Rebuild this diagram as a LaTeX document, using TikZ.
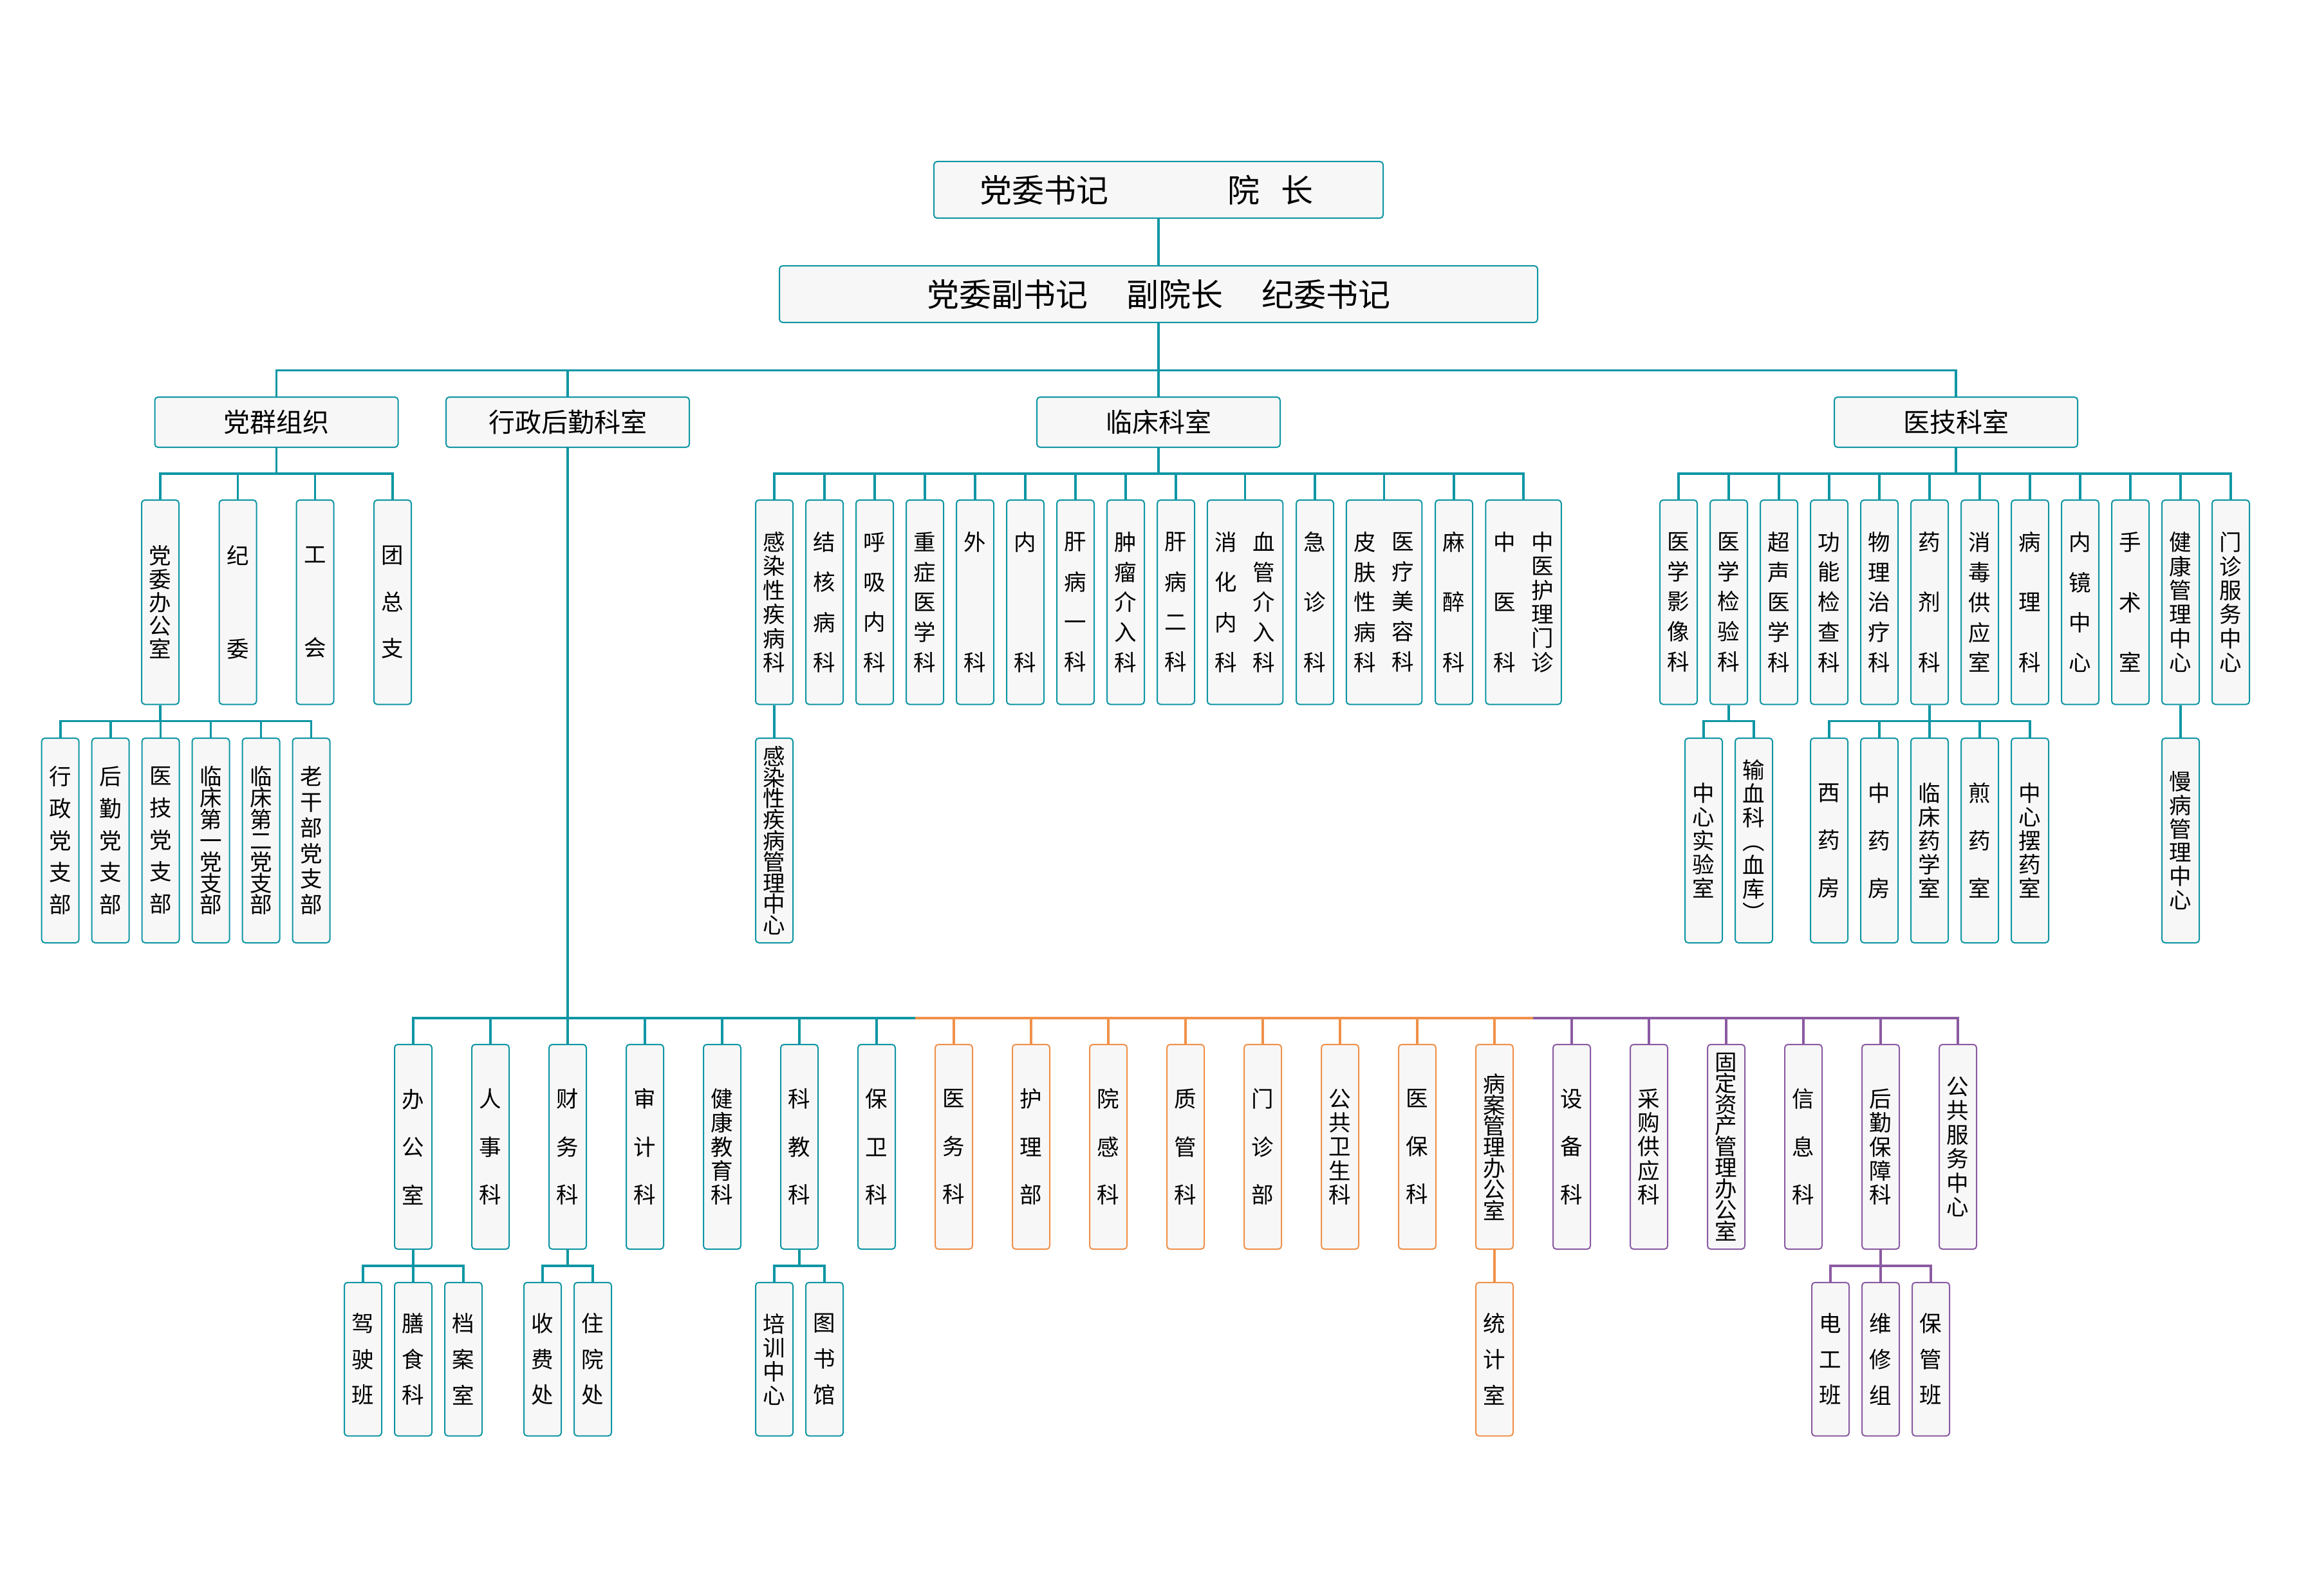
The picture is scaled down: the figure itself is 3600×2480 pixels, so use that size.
\documentclass[tikz,border=0pt]{standalone}
\usepackage{fontspec}
\setmainfont{Noto Sans CJK SC}
\definecolor{tealc}{RGB}{14,150,164}
\definecolor{orngc}{RGB}{240,145,74}
\definecolor{purpc}{RGB}{139,90,162}
\definecolor{boxfill}{RGB}{247,247,247}
\newcommand\VF[1]{\fontsize{34.5pt}{#1pt}\selectfont\lineskiplimit=-200pt\relax}
\tikzset{
  base/.style={fill=boxfill, line width=2pt, rounded corners=5pt, inner sep=0pt, align=center, minimum width=58pt, text=black},
  T/.style={base, draw=tealc},
  O/.style={base, draw=orngc},
  P/.style={base, draw=purpc},
  hA/.style={minimum height=317.5pt},
  hB/.style={minimum height=318pt},
  hC/.style={minimum height=238.5pt},
  wide/.style={minimum width=117.5pt},
  sp/.style={font=\VF{#1}},
  lT/.style={draw=tealc, line width=3.8pt},
  lO/.style={draw=orngc, line width=3.8pt},
  lP/.style={draw=purpc, line width=3.8pt},
  big/.style={font=\fontsize{50pt}{60pt}\selectfont, inner sep=0pt},
  mid/.style={font=\fontsize{41pt}{48pt}\selectfont},
}
\begin{document}
\begin{tikzpicture}[x=1pt,y=-1pt]
\fill[white] (0,0) rectangle (3600,2480);
\useasboundingbox (0,0) rectangle (3600,2480);

% ---- top ----
\node[T, minimum width=698pt, minimum height=88pt] (t1) at (1800,295) {};
\node[big] (t1a) at (1781.5,295) {党委书记\hspace{185pt}院\hspace{33pt}长};
\node[T, minimum width=1178pt, minimum height=88pt] (t2) at (1800,457) {};
\node[big] (t2a) at (1800,457) {党委副书记\hspace{60pt}副院长\hspace{60pt}纪委书记};

% ---- level 2 ----
\node[T, mid, minimum width=378pt, minimum height=78pt] (dq) at (429.5,656) {党群组织};
\node[T, mid, minimum width=378pt, minimum height=78pt] (xz) at (882,656) {行政后勤科室};
\node[T, mid, minimum width=378pt, minimum height=78pt] (lc) at (1800,656) {临床科室};
\node[T, mid, minimum width=378pt, minimum height=78pt] (yj) at (3039,656) {医技科室};

\coordinate (busTop) at (0,575.5);
\coordinate (bA) at (0,735.6);
\coordinate (bB) at (0,1120.5);
\coordinate (bC) at (0,1582);
\coordinate (bD) at (0,1967);
\coordinate (ta) at (1422,1582);
\coordinate (pb) at (2382,1582);

% ---- party ----
\node[T,hA,sp=36.25] (p1) at (249,935.75) {党\\委\\办\\公\\室};
\node[T,hA,sp=145] (p2) at (369.5,935.75) {纪\\委};
\node[T,hA,sp=145] (p3) at (489.5,935.75) {工\\会};
\node[T,hA,sp=72.5] (p4) at (610,935.75) {团\\总\\支};
\node[T,hB,sp=49.75] (q1) at (93.7,1306) {行\\政\\党\\支\\部};
\node[T,hB,sp=49.75] (q2) at (171.7,1306) {后\\勤\\党\\支\\部};
\node[T,hB,sp=49.75] (q3) at (249.5,1306) {医\\技\\党\\支\\部};
\node[T,hB,sp=33.2] (q4) at (327.5,1306) {临\\床\\第\\一\\党\\支\\部};
\node[T,hB,sp=33.2] (q5) at (405.5,1306) {临\\床\\第\\二\\党\\支\\部};
\node[T,hB,sp=39.8] (q6) at (483.5,1306) {老\\干\\部\\党\\支\\部};

% ---- clinical ----
\node[T,hA,sp=37.4] (c1) at (1203,935.75) {感\\染\\性\\疾\\病\\科};
\node[T,hA,sp=62.3] (c2) at (1281,935.75) {结\\核\\病\\科};
\node[T,hA,sp=62.3] (c3) at (1359,935.75) {呼\\吸\\内\\科};
\node[T,hA,sp=46.75] (c4) at (1437,935.75) {重\\症\\医\\学\\科};
\node[T,hA,sp=187] (c5) at (1515,935.75) {外\\科};
\node[T,hA,sp=187] (c6) at (1593,935.75) {内\\科};
\node[T,hA,sp=62.3] (c7) at (1671,935.75) {肝\\病\\一\\科};
\node[T,hA,sp=46.75] (c8) at (1749,935.75) {肿\\瘤\\介\\入\\科};
\node[T,hA,sp=62.3] (c9) at (1827,935.75) {肝\\病\\二\\科};
\node[T,hA,wide] (c10) at (1934.5,935.75) {};
\node[sp=62.3, align=center, inner sep=0pt] (c10a) at ([xshift=-29.5pt]c10.center) {消\\化\\内\\科};
\node[sp=46.75, align=center, inner sep=0pt] (c10b) at ([xshift=29.5pt]c10.center) {血\\管\\介\\入\\科};
\node[T,hA,sp=93.5] (c11) at (2043,935.75) {急\\诊\\科};
\node[T,hA,wide] (c12) at (2150.5,935.75) {};
\node[sp=46.75, align=center, inner sep=0pt] (c12a) at ([xshift=-29.5pt]c12.center) {皮\\肤\\性\\病\\科};
\node[sp=46.75, align=center, inner sep=0pt] (c12b) at ([xshift=29.5pt]c12.center) {医\\疗\\美\\容\\科};
\node[T,hA,sp=93.5] (c13) at (2259,935.75) {麻\\醉\\科};
\node[T,hA,wide] (c14) at (2367,935.75) {};
\node[sp=93.5, align=center, inner sep=0pt] (c14a) at ([xshift=-29.5pt]c14.center) {中\\医\\科};
\node[sp=37.4, align=center, inner sep=0pt] (c14b) at ([xshift=29.5pt]c14.center) {中\\医\\护\\理\\门\\诊};
\node[T,hB,sp=32.8] (c1s) at (1203,1306) {感\\染\\性\\疾\\病\\管\\理\\中\\心};

% ---- medical technology ----
\node[T,hA,sp=46.75] (m1) at (2608,935.75) {医\\学\\影\\像\\科};
\node[T,hA,sp=46.75] (m2) at (2686,935.75) {医\\学\\检\\验\\科};
\node[T,hA,sp=46.75] (m3) at (2764,935.75) {超\\声\\医\\学\\科};
\node[T,hA,sp=46.75] (m4) at (2842,935.75) {功\\能\\检\\查\\科};
\node[T,hA,sp=46.75] (m5) at (2920,935.75) {物\\理\\治\\疗\\科};
\node[T,hA,sp=93.5] (m6) at (2998,935.75) {药\\剂\\科};
\node[T,hA,sp=46.75] (m7) at (3076,935.75) {消\\毒\\供\\应\\室};
\node[T,hA,sp=93.5] (m8) at (3154,935.75) {病\\理\\科};
\node[T,hA,sp=62.3] (m9) at (3232,935.75) {内\\镜\\中\\心};
\node[T,hA,sp=93.5] (m10) at (3310,935.75) {手\\术\\室};
\node[T,hA,sp=37.4] (m11) at (3388,935.75) {健\\康\\管\\理\\中\\心};
\node[T,hA,sp=37.4] (m12) at (3466,935.75) {门\\诊\\服\\务\\中\\心};
\node[T,hB,sp=37] (n1) at (2647,1306) {中\\心\\实\\验\\室};
\node[T,hB,sp=37] (n2) at (2725,1306) {输\\血\\科\\︵\\血\\库\\︶};
\node[T,hB,sp=74] (n3) at (2842,1306) {西\\药\\房};
\node[T,hB,sp=74] (n4) at (2920,1306) {中\\药\\房};
\node[T,hB,sp=37] (n5) at (2998,1306) {临\\床\\药\\学\\室};
\node[T,hB,sp=74] (n6) at (3076,1306) {煎\\药\\室};
\node[T,hB,sp=37] (n7) at (3154,1306) {中\\心\\摆\\药\\室};
\node[T,hB,sp=36.7] (n8) at (3388,1306) {慢\\病\\管\\理\\中\\心};

% ---- administration ----
\node[T,hB,sp=74.5] (a1) at (642,1782) {办\\公\\室};
\node[T,hB,sp=74.5] (a2) at (762,1782) {人\\事\\科};
\node[T,hB,sp=74.5] (a3) at (882,1782) {财\\务\\科};
\node[T,hB,sp=74.5] (a4) at (1002,1782) {审\\计\\科};
\node[T,hB,sp=37.25] (a5) at (1122,1782) {健\\康\\教\\育\\科};
\node[T,hB,sp=74.5] (a6) at (1242,1782) {科\\教\\科};
\node[T,hB,sp=74.5] (a7) at (1362,1782) {保\\卫\\科};
\node[O,hB,sp=74.5] (o1) at (1482,1782) {医\\务\\科};
\node[O,hB,sp=74.5] (o2) at (1602,1782) {护\\理\\部};
\node[O,hB,sp=74.5] (o3) at (1722,1782) {院\\感\\科};
\node[O,hB,sp=74.5] (o4) at (1842,1782) {质\\管\\科};
\node[O,hB,sp=74.5] (o5) at (1962,1782) {门\\诊\\部};
\node[O,hB,sp=37.25] (o6) at (2082,1782) {公\\共\\卫\\生\\科};
\node[O,hB,sp=74.5] (o7) at (2202,1782) {医\\保\\科};
\node[O,hB,sp=32.8] (o8) at (2322,1782) {病\\案\\管\\理\\办\\公\\室};
\node[P,hB,sp=74.5] (r1) at (2442,1782) {设\\备\\科};
\node[P,hB,sp=37.25] (r2) at (2562,1782) {采\\购\\供\\应\\科};
\node[P,hB,sp=32.9] (r3) at (2682,1782) {固\\定\\资\\产\\管\\理\\办\\公\\室};
\node[P,hB,sp=74.5] (r4) at (2802,1782) {信\\息\\科};
\node[P,hB,sp=37.25] (r5) at (2922,1782) {后\\勤\\保\\障\\科};
\node[P,hB,sp=37.5] (r6) at (3042,1782) {公\\共\\服\\务\\中\\心};

\node[T,hC,sp=55.7] (s1) at (564,2112) {驾\\驶\\班};
\node[T,hC,sp=55.7] (s2) at (642,2112) {膳\\食\\科};
\node[T,hC,sp=55.7] (s3) at (720,2112) {档\\案\\室};
\node[T,hC,sp=55.7] (s4) at (843,2112) {收\\费\\处};
\node[T,hC,sp=55.7] (s5) at (921,2112) {住\\院\\处};
\node[T,hC,sp=37] (s6) at (1203,2112) {培\\训\\中\\心};
\node[T,hC,sp=55.7] (s7) at (1281,2112) {图\\书\\馆};
\node[O,hC,sp=55.7] (s8) at (2322,2112) {统\\计\\室};
\node[P,hC,sp=55.7] (s9) at (2844,2112) {电\\工\\班};
\node[P,hC,sp=55.7] (s10) at (2922,2112) {维\\修\\组};
\node[P,hC,sp=55.7] (s11) at (3000,2112) {保\\管\\班};

% ---- connectors ----
\draw[lT] (t1.south) -- (t2.north);
\draw[lT] (t2.south) -- (lc.north);
\draw[lT] (dq.north) -- (dq.north |- busTop) -| (yj.north);
\draw[lT] (xz.north) -- (xz.north |- busTop);

\foreach \c in {p1,p2,p3,p4} \draw[lT] (dq.south) -- (dq.south |- bA) -| (\c.north);
\foreach \c in {q1,q2,q3,q4,q5,q6} \draw[lT] (p1.south) -- (p1.south |- bB) -| (\c.north);

\foreach \c in {c1,c2,c3,c4,c5,c6,c7,c8,c9,c10,c11,c12,c13,c14} \draw[lT] (lc.south) -- (lc.south |- bA) -| (\c.north);
\draw[lT] (c1.south) -- (c1s.north);

\foreach \c in {m1,m2,m3,m4,m5,m6,m7,m8,m9,m10,m11,m12} \draw[lT] (yj.south) -- (yj.south |- bA) -| (\c.north);
\foreach \c in {n1,n2} \draw[lT] (m2.south) -- (m2.south |- bB) -| (\c.north);
\foreach \c in {n3,n4,n5,n6,n7} \draw[lT] (m6.south) -- (m6.south |- bB) -| (\c.north);
\draw[lT] (m11.south) -- (n8.north);

\draw[lT] (xz.south) -- (a3.north);
\draw[lT] (a1.north) |- (ta);
\foreach \c in {a2,a4,a5,a6,a7} \draw[lT] (\c.north) -- (\c.north |- bC);
\draw[lO] (ta) -- (pb);
\foreach \c in {o1,o2,o3,o4,o5,o6,o7,o8} \draw[lO] (\c.north) -- (\c.north |- bC);
\draw[lP] (pb) -| (r6.north);
\foreach \c in {r1,r2,r3,r4,r5} \draw[lP] (\c.north) -- (\c.north |- bC);

\foreach \c in {s1,s2,s3} \draw[lT] (a1.south) -- (a1.south |- bD) -| (\c.north);
\foreach \c in {s4,s5} \draw[lT] (a3.south) -- (a3.south |- bD) -| (\c.north);
\foreach \c in {s6,s7} \draw[lT] (a6.south) -- (a6.south |- bD) -| (\c.north);
\draw[lO] (o8.south) -- (s8.north);
\foreach \c in {s9,s10,s11} \draw[lP] (r5.south) -- (r5.south |- bD) -| (\c.north);
\end{tikzpicture}
\end{document}
